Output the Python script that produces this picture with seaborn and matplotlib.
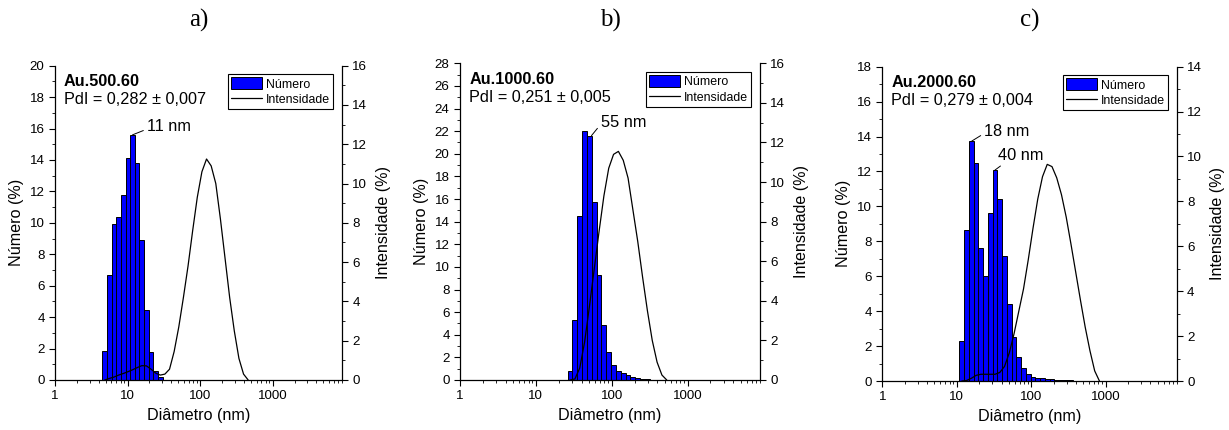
import numpy as np
import pandas as pd
import matplotlib
matplotlib.use('Agg')
import matplotlib.pyplot as plt
from matplotlib.ticker import MultipleLocator, LogLocator, NullFormatter
from matplotlib.patches import Patch
from matplotlib.lines import Line2D
import seaborn as sns

# size classes of the DLS instrument (nm)
size_classes = [0.4, 0.4632, 0.5365, 0.6213, 0.7195, 0.8332, 0.9649, 1.117, 1.294, 1.499,
                1.736, 2.01, 2.328, 2.696, 3.122, 3.615, 4.187, 4.849, 5.615, 6.503,
                7.531, 8.721, 10.1, 11.7, 13.54, 15.69, 18.17, 21.04, 24.36, 28.21,
                32.67, 37.84, 43.82, 50.75, 58.77, 68.06, 78.82, 91.28, 105.7, 122.4,
                141.8, 164.2, 190.1, 220.2, 255.0, 295.3, 342.0, 396.1, 458.7, 531.2,
                615.1, 712.4, 825.0, 955.4, 1106, 1281, 1484, 1718, 1990, 2305,
                2669, 3091, 3580, 4145, 4801, 5560, 6439, 7456, 8635, 10000]

# a) Au.500.60
num_a_size = [4.849, 5.615, 6.503, 7.531, 8.721, 10.1, 11.7, 13.54, 15.69, 18.17, 21.04, 24.36, 28.21]
num_a = [1.85, 6.7, 9.9, 10.4, 11.8, 14.1, 15.6, 13.8, 8.9, 4.45, 1.75, 0.6, 0.2]
int_a_size = [4.849, 5.615, 6.503, 7.531, 8.721, 10.1, 11.7, 13.54, 15.69, 18.17, 21.04, 24.36,
              28.21, 32.67, 37.84, 43.82, 50.75, 58.77, 68.06, 78.82, 91.28, 105.7, 122.4,
              141.8, 164.2, 190.1, 220.2, 255.0, 295.3, 342.0, 396.1, 458.7]
int_a = [0, 0.08, 0.15, 0.25, 0.33, 0.42, 0.52, 0.63, 0.73, 0.72, 0.55, 0.35,
         0.25, 0.3, 0.55, 1.45, 2.7, 4.2, 5.8, 7.6, 9.3, 10.6, 11.25,
         10.9, 10.0, 8.2, 6.2, 4.2, 2.5, 1.1, 0.3, 0]

# b) Au.1000.60
num_b_size = [28.21, 32.67, 37.84, 43.82, 50.75, 58.77, 68.06, 78.82, 91.28, 105.7,
              122.4, 141.8, 164.2, 190.1, 220.2, 255.0, 295.3, 342.0, 396.1]
num_b = [0.8, 5.3, 14.5, 22.0, 21.6, 15.7, 9.3, 4.9, 2.45, 1.3,
         0.8, 0.58, 0.42, 0.3, 0.2, 0.12, 0.07, 0.04, 0.02]
int_b_size = [28.21, 32.67, 37.84, 43.82, 50.75, 58.77, 68.06, 78.82, 91.28, 105.7, 122.4,
              141.8, 164.2, 190.1, 220.2, 255.0, 295.3, 342.0, 396.1, 458.7, 531.2]
int_b = [0, 0.05, 0.6, 1.9, 3.7, 5.6, 7.5, 9.3, 10.7, 11.4, 11.55,
         11.1, 10.2, 8.6, 7.0, 5.2, 3.5, 2.0, 0.9, 0.25, 0]

# c) Au.2000.60
num_c_size = [11.7, 13.54, 15.69, 18.17, 21.04, 24.36, 28.21, 32.67, 37.84, 43.82,
              50.75, 58.77, 68.06, 78.82, 91.28, 105.7, 122.4, 141.8, 164.2, 190.1,
              220.2, 255.0, 295.3, 342.0, 396.1, 458.7]
num_c = [2.31, 8.67, 13.74, 12.5, 7.62, 6.02, 9.6, 12.08, 10.4, 7.16,
         4.41, 2.5, 1.35, 0.73, 0.39, 0.25, 0.19, 0.15, 0.12, 0.1,
         0.08, 0.06, 0.05, 0.03, 0.02, 0.01]
int_c_size = [11.7, 13.54, 15.69, 18.17, 21.04, 24.36, 28.21, 32.67, 37.84, 43.82,
              50.75, 58.77, 68.06, 78.82, 91.28, 105.7, 122.4, 141.8, 164.2, 190.1,
              220.2, 255.0, 295.3, 342.0, 396.1, 458.7, 531.2, 615.1, 712.4, 825.0]
int_c = [0, 0.02, 0.12, 0.25, 0.3, 0.3, 0.3, 0.3, 0.38, 0.65,
         1.25, 2.1, 3.1, 4.1, 5.4, 6.8, 8.1, 9.1, 9.65, 9.55,
         9.05, 8.3, 7.3, 6.1, 4.85, 3.6, 2.4, 1.35, 0.45, 0]

samples = ['Au.500.60', 'Au.1000.60', 'Au.2000.60']
pdi_labels = ['PdI = 0,282 ± 0,007', 'PdI = 0,251 ± 0,005', 'PdI = 0,279 ± 0,004']
panel_labels = ['a)', 'b)', 'c)']
num_ymax = [20, 28, 18]
int_ymax = [16, 16, 14]

# peak labels: (bar x, bar y, text x, text y, text, ha, va, relpos)
peaks_a = [(11.7, 15.6, 18.3, 16.1, '11 nm', 'left', 'center', (0, 0.35))]
peaks_b = [(54, 21.6, 71.5, 22.8, '55 nm', 'left', 'center', (0, 0.35))]
peaks_c = [(15.9, 13.74, 23.2, 14.3, '18 nm', 'left', 'center', (0, 0.35)),
           (32.6, 12.08, 72, 12.5, '40 nm', 'center', 'bottom', (0.2, 0.1))]

BLUE = '#0000ff'

sns.set_style('ticks', rc={'axes.edgecolor': 'black', 'xtick.color': 'black',
                           'ytick.color': 'black', 'text.color': 'black',
                           'axes.labelcolor': 'black'})
plt.rcParams['font.family'] = ['Liberation Sans', 'DejaVu Sans']


def draw_panel(fig, rect, num_size, num_val, int_size, int_val, ymax_n, ymax_i,
               sample, pdi, peaks, panel_label):
    ax = fig.add_axes(rect)
    ax.set_xscale('log')

    # bars on every size class (zero classes give the thick baseline)
    heights = pd.Series(0.0, index=range(len(size_classes)))
    lookup = {s: i for i, s in enumerate(size_classes)}
    for s, v in zip(num_size, num_val):
        heights[lookup[s]] = v
    logs = np.log10(size_classes)
    half = np.diff(logs).mean() / 2
    left = 10 ** (logs - half)
    right = 10 ** (logs + half)
    ax.bar(left, heights.values, width=right - left, align='edge', color=BLUE,
           edgecolor='black', linewidth=0.7)

    ax2 = ax.twinx()
    sns.lineplot(x=int_size, y=int_val, ax=ax2, color='black', linewidth=0.9)

    ax.set_xlim(1, 9000)
    ax.set_ylim(0, ymax_n)
    ax2.set_ylim(0, ymax_i)
    ax.set_xticks([1, 10, 100, 1000])
    ax.set_xticklabels(['1', '10', '100', '1000'])
    ax.xaxis.set_minor_locator(LogLocator(base=10, subs=np.arange(2, 10), numticks=20))
    ax.xaxis.set_minor_formatter(NullFormatter())
    ax.yaxis.set_major_locator(MultipleLocator(2))
    ax.yaxis.set_minor_locator(MultipleLocator(1))
    ax2.yaxis.set_major_locator(MultipleLocator(2))
    ax2.yaxis.set_minor_locator(MultipleLocator(1))

    for a in (ax, ax2):
        a.tick_params(which='major', direction='out', length=4, width=0.8, labelsize=9.6)
        a.tick_params(which='minor', direction='out', length=2, width=0.6)
        a.spines['top'].set_visible(False)
        for sp in a.spines.values():
            sp.set_linewidth(0.9)
    ax.spines['right'].set_visible(False)
    ax2.spines['left'].set_visible(False)
    ax2.spines['bottom'].set_visible(False)

    ax.set_xlabel('Diâmetro (nm)', fontsize=11.6)
    ax.set_ylabel('Número (%)', fontsize=11.6)
    ax2.set_ylabel('Intensidade (%)', fontsize=11.6, labelpad=6)

    ax2.text(0.031, 0.949, sample, transform=ax.transAxes, fontsize=11.7,
             fontweight='bold', va='center', ha='left')
    ax2.text(0.031, 0.891, pdi, transform=ax.transAxes, fontsize=11.7,
             va='center', ha='left')

    for bx, by, tx, ty, txt, ha, va, rp in peaks:
        ax.annotate(txt, xy=(bx, by), xytext=(tx, ty), fontsize=11.8, ha=ha, va=va,
                    arrowprops=dict(arrowstyle='-', color='black', lw=0.7,
                                    shrinkA=0, shrinkB=0, relpos=rp))

    handles = [Patch(facecolor=BLUE, edgecolor='black', linewidth=0.7, label='Número'),
               Line2D([], [], color='black', linewidth=0.9, label='Intensidade')]
    leg = ax2.legend(handles=handles, loc='upper right', bbox_to_anchor=(1, 1),
                     fontsize=8.9, frameon=True, fancybox=False, framealpha=1,
                     edgecolor='black', borderaxespad=0.7, borderpad=0.25,
                     labelspacing=0.2, handlelength=2.5, handleheight=1.1,
                     handletextpad=0.35)
    leg.get_frame().set_linewidth(0.8)

    fig.text(rect[0] + rect[2] / 2, 1 - 20 / 430, panel_label, fontsize=18,
             family=['Liberation Serif', 'DejaVu Serif'], ha='center', va='center')


fig = plt.figure(figsize=(12.29, 4.30), dpi=100)

W, H = 1229, 430
rects = [[55 / W, 50 / H, 287 / W, 314.3 / H],
         [460 / W, 50 / H, 300 / W, 316.7 / H],
         [882.3 / W, 49 / H, 294.4 / W, 314.3 / H]]

panels = [(num_a_size, num_a, int_a_size, int_a, peaks_a),
          (num_b_size, num_b, int_b_size, int_b, peaks_b),
          (num_c_size, num_c, int_c_size, int_c, peaks_c)]

for i, (ns, nv, isz, iv, pk) in enumerate(panels):
    draw_panel(fig, rects[i], ns, nv, isz, iv, num_ymax[i], int_ymax[i],
               samples[i], pdi_labels[i], pk, panel_labels[i])

fig.savefig('out.png', dpi=100)
plt.close(fig)
